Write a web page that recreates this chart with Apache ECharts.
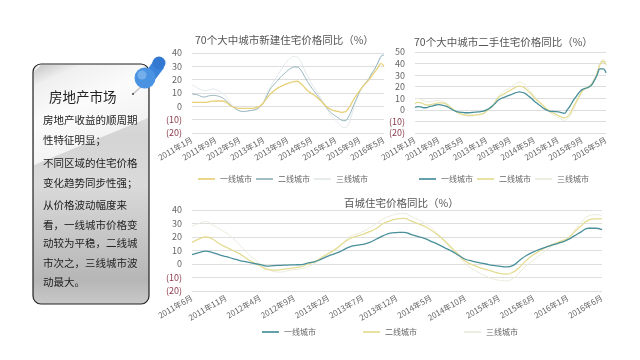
<!DOCTYPE html>
<html>
<head>
<meta charset="utf-8">
<script src="https://cdn.jsdelivr.net/npm/echarts@6/dist/echarts.min.js"></script>
<style>
  html, body { margin: 0; padding: 0; background: #fff; }
  .layer { position: absolute; left: 0; top: 0; width: 640px; height: 360px; }
</style>
</head>
<body>
<div class="layer" id="chart_new"></div>
<div class="layer" id="chart_second"></div>
<div class="layer" id="chart_hundred"></div>
<div class="layer" id="panel"></div>
<script>
const FONT = "Noto Sans CJK SC";
const tierNames = ["一线城市", "二线城市", "三线城市"];

// 月度标签
const monthLabels = (year, month, count) => {
  const labels = [];
  for (let i = 0; i < count; i++) {
    const m = month - 1 + i;
    labels.push(`${year + Math.floor(m / 12)}年${(m % 12) + 1}月`);
  }
  return labels;
};
const months70 = monthLabels(2011, 1, 65);
const months100 = monthLabels(2011, 6, 61);

const newTier1 = [3,3,3,2.9,3,3.2,3.6,3.9,4,4,4,3.6,
  2,0.3,-0.8,-1.3,-1.5,-1.5,-1.5,-1.5,-1.5,-1.2,-0.6,0.8,
  3.2,6.2,9,11,12.8,14.2,15.3,16.4,17.3,18,18.6,18.8,
  17.6,15.5,13,11,9.5,8,6,4,1.5,-0.5,-2,-3,
  -3.5,-4,-4.5,-4.2,-2,1.5,5.5,9,12,15,17.5,20,
  23,26,29,32,30];
const newTier2 = [9.2,9,8.5,7.5,7,7.5,8,8.2,8,7.5,6.5,5,
  2.8,0.8,-1,-2.5,-3.5,-3.8,-3.6,-3.3,-3,-2.6,-1.5,0.5,
  3.5,8,12.5,15.5,18,20.5,23,25,27,28.5,29.5,29.5,
  28,24.5,20.5,16.8,13.5,10.5,7.5,4.5,1.5,-1.5,-4,-6,
  -7.5,-9,-10.5,-10.8,-8.5,-4,1.5,6.5,11.5,15,18,21,
  25,28.5,33,37.5,38.5];
const newTier3 = [16,15,13.5,12.5,12,12,12.5,13,12.5,11.5,10,8,
  5,2,-0.2,-2.2,-3.5,-4,-4,-3.5,-3,-2.8,-2,0.5,
  4,9.5,14,18,21.5,25,28.5,32,34.5,36.5,37.5,37,
  34.5,30,25,21,16.5,13,9.5,6,2.5,-1.5,-5.5,-8.5,
  -10.5,-13,-15.5,-16,-14,-8,-1,6,11.5,15,18,21,
  24.5,28,32,37,39.5];

const secondTier1 = [2,2.8,2.5,1.8,2,3,3.5,4.2,4.5,4,3.5,2.5,
  1,-0.5,-1.5,-2,-2.2,-2.5,-2.5,-2.3,-2,-1.8,-1.5,-1,
  0,1.5,3.5,6,8.5,10,11,12,13,14,15,15.5,
  15,14,12,10,7.5,5.5,3.5,1.5,0,-1,-1.3,-1.5,
  -1.8,-2.3,-3,0,3.5,8,11.5,15,17.5,18.5,19.5,21,
  25,30,35.5,35.5,32];
const secondTier2 = [5.5,6.5,6,5,4.2,4.5,5,5.5,6,6,5.5,4,
  2,0,-2,-3,-4,-4.5,-4.8,-4.8,-4.5,-4.2,-3.8,-3,
  -1,1,3,7,11,12.5,14,15.5,17,18.5,20,20.5,
  20,18.5,16,13.5,10.5,8,6,3.5,1,-1,-2.5,-3.5,
  -5,-6,-7,-6,-3,2,7,11.5,16,18,19.5,21.5,
  25,31,39,42,39];
const secondTier3 = [9,10,9,8,7,7,7.5,8,8,7.5,6.5,5,
  2.5,0,-2,-3.5,-4.5,-5,-5.5,-5.5,-5,-4.5,-4,-3,
  -1,1.5,4,8.5,12.5,14.5,16.5,18,19.5,21.5,23,24,
  23,21.5,18.5,15.5,12,9,6.5,3.5,0.5,-2,-4,-5,
  -6.5,-8,-9,-8,-5,0,5.5,10.5,15.5,18.5,20.5,23,
  27,33,41,43.5,41];

const hundredTier1 = [7,8.5,9.5,8.5,6.8,5.5,4,2.5,1.5,0.5,-0.5,-1.5,
  -1.2,-1,-0.8,-0.6,-0.5,0.8,1.8,3.8,6,7.8,10,12.5,
  13.8,14.5,16,18.5,21,22.8,23.3,23.5,22,20.5,19,16.8,
  14.5,12,9.5,6.5,3.5,2.2,1,0,-1,-1.6,-2.2,-1,
  3,6.5,9,11,12.8,14.5,16,18,21,24,26.5,26.5,25.5];
const hundredTier2 = [16,18.5,20,18.5,15,12.5,10,7.5,4,1,-1.5,-4,
  -4.5,-4.2,-3.5,-2.8,-2,0,1.8,5,8,11,15,18.5,
  20.5,22,24,26.5,30,32,33.5,33.8,32,30,28,25,
  21.5,17,12,7,2,-0.5,-2.5,-4,-5.5,-7,-7.5,-6,
  -2,3,7,10,13,15,17,19,24,28.5,32.5,33.5,33.5];
const hundredTier3 = [28,30,31.5,29,26,23,19,14,8.5,4,0,-3.5,
  -5.5,-6,-5,-4.2,-3.5,-2,0.5,3.5,7,10.5,15,20,
  22,24,27,30,33.5,35.5,37,37.5,35.5,33,30.5,27,
  22,16.5,11,5.5,0,-3.5,-6.5,-9,-11,-12,-12.5,-10.5,
  -6,-1,3,7,11,14,16,18.5,25,31,35.5,36.5,36];

const panelTitle = "房地产市场";
const panelLines = [
  ["房地产收益的顺周期", 120],
  ["性特征明显；", 140],
  ["不同区域的住宅价格", 163],
  ["变化趋势同步性强；", 183],
  ["从价格波动幅度来", 205],
  ["看，一线城市价格变", 225],
  ["动较为平稳，二线城", 243],
  ["市次之，三线城市波", 263],
  ["动最大。", 282]
];

const drawChart = (domId, cfg) => {
  const chart = echarts.init(document.getElementById(domId));
  chart.setOption({
    animation: false,
    textStyle: { fontFamily: FONT },
    title: {
      text: cfg.title,
      left: cfg.titleLeft,
      top: cfg.titleTop,
      padding: 0,
      textStyle: { fontFamily: FONT, fontSize: 10.5, fontWeight: "normal", color: "#555" }
    },
    legend: {
      left: cfg.legendLeft,
      top: cfg.legendTop,
      padding: 0,
      itemWidth: 17,
      itemHeight: 8,
      itemGap: cfg.legendGap,
      icon: "path://M0 0H10V1H0Z",
      data: tierNames,
      textStyle: { fontFamily: FONT, fontSize: 8, color: "#666" }
    },
    grid: cfg.grid,
    xAxis: {
      type: "category",
      boundaryGap: false,
      data: cfg.months,
      axisLine: { onZero: false, show: false },
      axisTick: { show: false },
      axisLabel: {
        interval: cfg.labelEvery,
        rotate: 30,
        margin: 6,
        fontFamily: FONT,
        fontSize: 8,
        color: "#666"
      }
    },
    yAxis: {
      type: "value",
      min: -20,
      max: cfg.max,
      interval: 10,
      axisLine: { show: false },
      axisTick: { show: false },
      splitLine: { lineStyle: { color: "#dedede", width: 1 } },
      axisLabel: {
        margin: 10,
        fontFamily: FONT,
        fontSize: 9,
        formatter: (v) => (v < 0 ? `(${-v})` : `${v}`),
        color: (v) => (Number(v) < 0 ? "#8a3b4b" : "#666")
      }
    },
    series: tierNames.map((name, i) => ({
      name,
      type: "line",
      smooth: 0.5,
      showSymbol: false,
      z: 5 - i,
      data: cfg.data[i],
      itemStyle: { color: cfg.colors[i] },
      lineStyle: { color: cfg.colors[i], width: cfg.widths[i] }
    }))
  });
};

drawChart("chart_new", {
  title: "70个大中城市新建住宅价格同比（%）",
  titleLeft: 195, titleTop: 35,
  legendLeft: 198, legendTop: 175, legendGap: 4,
  grid: { left: 192, top: 53, width: 192, height: 80 },
  months: months70, labelEvery: 7, max: 40,
  data: [newTier1, newTier2, newTier3],
  colors: ["#e8d078", "#94b3bc", "#e2e8e9"],
  widths: [1.3, 1, 1]
});

drawChart("chart_second", {
  title: "70个大中城市二手住宅价格同比（%）",
  titleLeft: 414, titleTop: 37,
  legendLeft: 419, legendTop: 175, legendGap: 4,
  grid: { left: 415, top: 52, width: 191, height: 81 },
  months: months70, labelEvery: 7, max: 50,
  data: [secondTier1, secondTier2, secondTier3],
  colors: ["#4a909b", "#e4dc92", "#eaeadb"],
  widths: [1.3, 1.3, 1]
});

drawChart("chart_hundred", {
  title: "百城住宅价格同比（%）",
  titleLeft: 344, titleTop: 198,
  legendLeft: 262, legendTop: 328, legendGap: 47,
  grid: { left: 192, top: 210, width: 410, height: 81 },
  months: months100, labelEvery: 4, max: 40,
  data: [hundredTier1, hundredTier2, hundredTier3],
  colors: ["#4a909b", "#e4dc92", "#eaeadb"],
  widths: [1.3, 1.3, 1]
});

// 左侧说明卡片和图钉
const panel = echarts.init(document.getElementById("panel"));
panel.setOption({
  animation: false,
  graphic: [
    {
      type: "rect",
      shape: { x: 33, y: 64, width: 116, height: 240, r: 8 },
      style: {
        fill: {
          type: "linear", x: 0, y: 0, x2: 0, y2: 1,
          colorStops: [
            { offset: 0, color: "#f0f0f0" },
            { offset: 0.3, color: "#d4d4d4" },
            { offset: 0.5, color: "#dadada" },
            { offset: 0.9, color: "#b6b6b6" },
            { offset: 1, color: "#c8c8c8" }
          ]
        }
      }
    },
    {
      type: "polygon",
      shape: { points: [[34, 72], [41, 65], [141, 65], [148, 72], [148, 118], [34, 165]] },
      style: {
        fill: {
          type: "linear", x: 0, y: 0, x2: 0.4, y2: 1,
          colorStops: [
            { offset: 0, color: "#c4c4c4" },
            { offset: 0.18, color: "#f0f0f0" },
            { offset: 0.5, color: "#fbfbfb" },
            { offset: 1, color: "#f0f0f0" }
          ]
        }
      }
    },
    {
      type: "rect",
      shape: { x: 33, y: 64, width: 116, height: 240, r: 8 },
      style: { fill: "transparent", stroke: "#222", lineWidth: 1.2 }
    },
    {
      type: "text",
      style: { x: 49, y: 97, text: panelTitle, fill: "#222", font: `13.5px "${FONT}"`, textVerticalAlign: "middle" }
    },
    ...panelLines.map(([text, y]) => ({
      type: "text",
      style: { x: 43, y, text, fill: "#222", font: `10.5px "${FONT}"`, textVerticalAlign: "middle" }
    })),
    // 图钉
    { type: "line", shape: { x1: 133, y1: 94, x2: 143, y2: 85 }, style: { stroke: "#c4c4c4", lineWidth: 1.5 } },
    { type: "circle", shape: { cx: 133, cy: 94, r: 1 }, style: { fill: "#444" } },
    {
      type: "polygon",
      shape: { points: [[147, 70], [155, 59], [164, 68], [154, 81]] },
      style: { fill: "#3b84dc" }
    },
    { type: "circle", shape: { cx: 159, cy: 63, r: 6.5 }, style: { fill: "#3379d2" } },
    { type: "circle", shape: { cx: 145, cy: 78, r: 10.5 }, style: { fill: "#4a92e2" } },
    { type: "circle", shape: { cx: 142, cy: 75, r: 4.5 }, style: { fill: "#86bcf0", opacity: 0.7 } }
  ]
});
</script>
</body>
</html>
